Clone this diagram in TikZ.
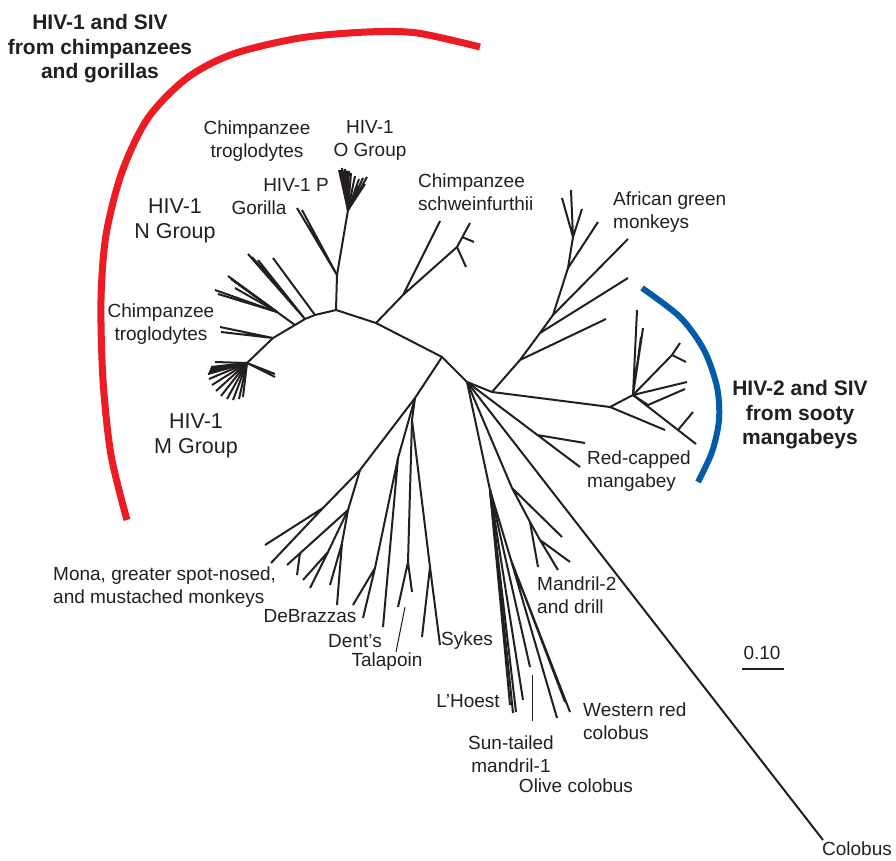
\documentclass[tikz,border=0pt]{standalone}
\usepackage{fontspec}
\setmainfont{Liberation Sans}
\usetikzlibrary{positioning}
\definecolor{hivred}{RGB}{237,28,36}
\definecolor{hivblue}{RGB}{0,91,170}
\definecolor{ink}{RGB}{35,31,32}

\begin{document}
\begin{tikzpicture}[x=1pt,y=-1pt,
  br/.style={ink, line width=2pt, line join=round},
  pointer/.style={ink, line width=1pt},
  lbl/.style={ink, inner sep=0pt, font=\fontsize{19}{23}\selectfont},
  grp/.style={ink, inner sep=0pt, align=center, font=\fontsize{21.5}{25}\selectfont},
  clade/.style={ink, inner sep=0pt, align=center, font=\bfseries\fontsize{21}{24.5}\selectfont}]
\useasboundingbox (0,0) rectangle (896,861);

% coloured brackets
\draw[hivred, line width=7pt] plot[smooth] coordinates {(127,520) (111,455) (103,380) (101,300) (106,235) (122,172) (148,118) (187,78) (233,54) (300,38) (367,32) (417,33) (480,47)};
\draw[hivblue, line width=6pt] plot[smooth] coordinates {(642,288) (680,317) (704,350) (717,387) (719,420) (712,452) (698,482)};

% backbone
\coordinate (a) at (336,310);
\coordinate (ao) at (337,275);
\coordinate (o) at (348,210);
\coordinate (b1) at (315,315);
\coordinate (b2) at (305,319);
\coordinate (b3) at (295,325);
\coordinate (b4) at (273,338);
\coordinate (m) at (247,363);
\coordinate (c1) at (376,323);
\coordinate (c2) at (442,357);
\coordinate (d) at (467,382);
\coordinate (s0) at (492,392);
\draw[br] (m) -- (b4) -- (b3) -- (b2) -- (b1) -- (a) -- (c1) -- (c2) -- (d);

% HIV-1 O and P, gorilla
\draw[br] (a) -- (ao) -- (o);
\draw[br] (ao) -- (297,208) (ao) -- (302,210);
\foreach \x/\y in {339/170, 342/168, 345/169, 348/171, 351/173, 355/176, 359/179, 363/178, 367/177, 365/184, 358/186, 342/180}
  \draw[br] (o) -- (\x,\y);
\fill[ink] (o) -- (339,170) -- (350,171) -- cycle;

% chimpanzee troglodytes, HIV-1 N
\draw[br] (b1) -- (273,258) (b2) -- (258,260) (b2) -- (252,257) (b2) -- (248,254);
\coordinate (f) at (277,312);
\draw[br] (b3) -- (f);
\foreach \x/\y in {228/276, 231/279, 234/281, 237/283, 215/290, 218/294, 235/288}
  \draw[br] (f) -- (\x,\y);
\draw[br] (b4) -- (220,327) (b4) -- (221,332);

% HIV-1 M
\foreach \x/\y in {208/374, 211/367, 215/362, 209/379, 212/385, 216/391, 221/396, 227/399, 233/400, 239/399, 243/397}
  \draw[br] (m) -- (\x,\y);
\fill[ink] (m) -- (208,374) -- (211,367) -- cycle;
\draw[br] (m) -- (275,374) (m) -- (275,377);

% chimpanzee schweinfurthii
\draw[br] (c1) -- (403,295) -- (440,221) (403,295) -- (457,247) -- (470,223);
\draw[br] (462,237) -- (474,242) (457,247) -- (466,267);

% African green monkeys
\draw[br] (d) -- (s0) -- (520,360) -- (540,333) -- (553,315) -- (568,268) -- (573,237);
\draw[br] (520,360) -- (606,319) (540,333) -- (628,278) (553,315) -- (628,239) (568,268) -- (598,222);
\draw[br] (573,237) -- (562,198) (573,237) -- (571,190) (573,237) -- (582,209);

% sooty mangabeys
\coordinate (s1) at (610,407);
\coordinate (s2) at (633,395);
\draw[br] (s0) -- (s1) -- (665,430) (s1) -- (s2);
\draw[br] (s2) -- (637,310) (s2) -- (643,328) (s2) -- (641,337);
\draw[br] (s2) -- (672,355) -- (680,343) (672,355) -- (686,362);
\draw[br] (s2) -- (687,382) (s2) -- (648,405) -- (685,389);
\draw[br] (s2) -- (696,444) (678,430) -- (693,412);

% red-capped mangabey, colobus
\draw[br] (d) -- (580,467) (537,435) -- (585,443);
\draw[br] (d) -- (823,840);

% mandrill and drill
\draw[br] (d) -- (512,488) -- (562,537) (512,488) -- (530,522) -- (538,567);
\draw[br] (530,522) -- (540,540) -- (558,570) (540,540) -- (570,562);

% L'Hoest, sun-tailed, colobus monkeys
\coordinate (h) at (490,490);
\draw[br] (d) -- (h);
\foreach \x/\y in {510/705, 513/713, 516/712, 523/700, 530/667}
  \draw[br] (h) -- (\x,\y);
\draw[br] (h) -- (511,560) -- (557,718) (511,560) -- (570,712) (511,560) -- (565,702);
\draw[pointer] (532,675) -- (532,721);

% guenons
\coordinate (l0) at (415,398);
\coordinate (l1) at (360,470);
\draw[br] (c2) -- (l0) -- (l1) -- (323,508) -- (265,545) (323,508) -- (271,563);
\draw[br] (l1) -- (348,510) -- (287,565) (300,553) -- (297,575);
\draw[br] (348,510) -- (328,552) -- (303,580) (328,552) -- (310,588);
\draw[br] (348,510) -- (342,543) -- (330,585) (342,543) -- (337,605);
\draw[br] (l0) -- (398,458) -- (375,568) -- (353,605) (375,568) -- (363,618) (398,458) -- (383,627);
\draw[br] (l0) -- (412,420) -- (408,562) -- (398,607) (408,562) -- (412,592);
\draw[br] (412,420) -- (430,567) -- (422,637) (430,567) -- (440,645);
\draw[pointer] (405,607) -- (396,652);

% scale bar
\draw[br] (742,669) -- (784,669);

% labels
\node[clade] (chimps) at (100,49) {HIV-1 and SIV\\from chimpanzees\\and gorillas};
\node[clade] (sooty) at (800,415) {HIV-2 and SIV\\from sooty\\mangabeys};
\node[lbl, align=center] (trogtop) at (257,141) {Chimpanzee\\troglodytes};
\node[lbl, align=center] (ogrp) at (370,140) {HIV-1\\O Group};
\node[lbl] (pgrp) at (296,185) {HIV-1 P};
\node[lbl] (gor) at (259,208) {Gorilla};
\node[grp] (ngrp) at (175,221) {HIV-1\\N Group};
\node[lbl, align=center] (trogleft) at (161,324) {Chimpanzee\\troglodytes};
\node[grp] (mgrp) at (196,436) {HIV-1\\M Group};
\node[lbl, align=left, anchor=west] (schw) at (418,192) {Chimpanzee\\schweinfurthii};
\node[lbl, align=left, anchor=west] (agm) at (613,212) {African green\\monkeys};
\node[lbl, align=left, anchor=west] (rcm) at (587,471) {Red-capped\\mangabey};
\node[lbl, align=left, anchor=west] (mona) at (53,587) {Mona, greater spot-nosed,\\and mustached monkeys};
\node[lbl] (debr) at (310,616) {DeBrazzas};
\node[lbl] (dent) at (355,641) {Dent's};
\node[lbl] (tala) at (387,662) {Talapoin};
\node[lbl] (sykes) at (467,641) {Sykes};
\node[lbl] (lhoest) at (468,701) {L'Hoest};
\node[lbl, align=left, anchor=west] (mand) at (537,595) {Mandril-2\\and drill};
\node[lbl, align=left, anchor=west] (wrc) at (583,721) {Western red\\colobus};
\node[lbl, align=center] (sun) at (511,754) {Sun-tailed\\mandril-1};
\node[lbl] (olive) at (576,786) {Olive colobus};
\node[lbl] (colob) at (857,849) {Colobus};
\node[lbl] (scale) at (762,653) {0.10};
\end{tikzpicture}
\end{document}
